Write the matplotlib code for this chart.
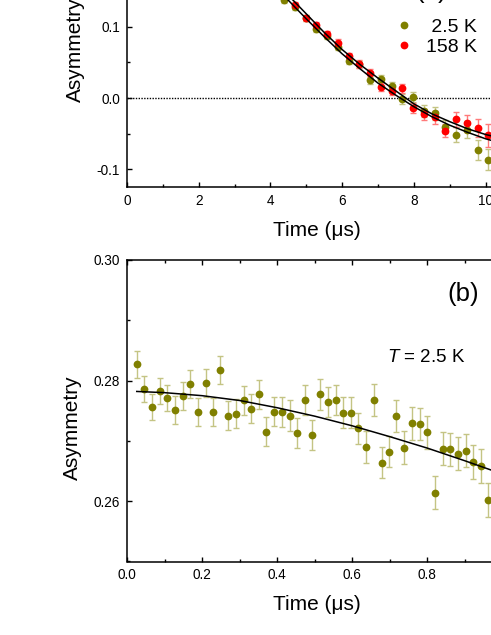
import matplotlib
matplotlib.use('Agg')
import matplotlib.pyplot as plt
from matplotlib.ticker import MultipleLocator, FormatStrFormatter

plt.rcParams['font.family'] = ['Liberation Sans', 'DejaVu Sans']
plt.rcParams['axes.unicode_minus'] = False
plt.rcParams['mathtext.fontset'] = 'custom'
plt.rcParams['mathtext.it'] = 'Liberation Sans:italic'
plt.rcParams['mathtext.rm'] = 'Liberation Sans'

# panel (a): asymmetry vs time, two temperatures
t_a = [4.38, 4.68, 4.98, 5.28, 5.58, 5.88, 6.18, 6.48, 6.78, 7.08,
       7.38, 7.68, 7.98, 8.28, 8.58, 8.88, 9.18, 9.48, 9.78, 10.08]
asym_25 = [0.1374, 0.1272, 0.1118, 0.0972, 0.087, 0.0718, 0.0519, 0.0471, 0.0251, 0.0271,
           0.0168, -0.0015, 0.0018, -0.018, -0.0216, -0.0404, -0.0511, -0.0442, -0.0731, -0.0861]
err_25 = [0.004, 0.004, 0.004, 0.004, 0.004, 0.0045, 0.0045, 0.005, 0.005, 0.0055,
          0.006, 0.0065, 0.007, 0.008, 0.009, 0.009, 0.011, 0.012, 0.014, 0.015]
asym_158 = [0.148, 0.130, 0.1126, 0.102, 0.0893, 0.0776, 0.0589, 0.0477, 0.0355, 0.0150,
            0.010, 0.0135, -0.0146, -0.0229, -0.0271, -0.0459, -0.0299, -0.0355, -0.0417, -0.0519]
err_158 = [0.004, 0.004, 0.004, 0.004, 0.004, 0.0045, 0.0045, 0.005, 0.005, 0.0055,
           0.006, 0.0065, 0.007, 0.008, 0.009, 0.009, 0.011, 0.012, 0.013, 0.016]

# fit curves
fit_t_a = [4.0, 4.5, 5.0, 5.5, 6.0, 6.5, 7.0, 7.5, 8.0, 8.5, 9.0, 9.5, 10.0, 10.5, 11.0]
fit_158 = [0.170, 0.144, 0.118, 0.092, 0.068, 0.047, 0.028, 0.010, -0.008, -0.022,
           -0.033, -0.043, -0.051, -0.057, -0.062]
fit_25 = [0.163, 0.137, 0.111, 0.086, 0.062, 0.041, 0.021, 0.004, -0.012, -0.026,
          -0.038, -0.048, -0.057, -0.064, -0.069]

# panel (b): early times at 2.5 K
t_b = [0.026, 0.046, 0.067, 0.088, 0.107, 0.128, 0.148, 0.169, 0.189, 0.210,
       0.230, 0.249, 0.270, 0.290, 0.311, 0.331, 0.352, 0.371, 0.391, 0.413,
       0.433, 0.454, 0.473, 0.494, 0.515, 0.535, 0.556, 0.576, 0.597, 0.616,
       0.637, 0.657, 0.678, 0.698, 0.717, 0.739, 0.759, 0.779, 0.799, 0.819,
       0.841, 0.861, 0.882, 0.902, 0.922, 0.942, 0.962]
asym_b = [0.2827, 0.2786, 0.2756, 0.2783, 0.2771, 0.2751, 0.2774, 0.2794, 0.2748, 0.2796,
          0.2748, 0.2817, 0.2742, 0.2745, 0.2767, 0.2753, 0.2777, 0.2715, 0.2748, 0.2748,
          0.2742, 0.2713, 0.2768, 0.2710, 0.2777, 0.2765, 0.2768, 0.2747, 0.2747, 0.2721,
          0.2690, 0.2768, 0.2664, 0.2682, 0.2741, 0.2689, 0.2729, 0.2728, 0.2714, 0.2614,
          0.2687, 0.2686, 0.2679, 0.2684, 0.2665, 0.2659, 0.2602]
err_b = [0.0022, 0.0022, 0.0022, 0.0022, 0.0022, 0.0023, 0.0023, 0.0023, 0.0023, 0.0023,
         0.0023, 0.0023, 0.0024, 0.0024, 0.0024, 0.0024, 0.0024, 0.0024, 0.0024, 0.0025,
         0.0025, 0.0025, 0.0025, 0.0025, 0.0025, 0.0025, 0.0025, 0.0026, 0.0026, 0.0026,
         0.0026, 0.0026, 0.0026, 0.0026, 0.0027, 0.0027, 0.0027, 0.0027, 0.0027, 0.0027,
         0.0027, 0.0027, 0.0028, 0.0028, 0.0028, 0.0028, 0.0028]
fit_t_b = [0.026, 0.1, 0.2, 0.3, 0.4, 0.5, 0.6, 0.7, 0.8, 0.9, 1.0, 1.1, 1.2]
fit_b = [0.2782, 0.2780, 0.2775, 0.2767, 0.2755, 0.2741, 0.2725, 0.2707, 0.2688, 0.2667,
         0.2645, 0.2622, 0.2598]

W, H = 491, 635
OLIVE = '#808000'
OLIVE_ERR = '#c4c484'
RED = '#ff0000'
RED_ERR = '#ff7a7a'


def box(left, top, right, bottom):
    return [left / W, 1 - bottom / H, (right - left) / W, (bottom - top) / H]


fig = plt.figure(figsize=(W / 100, H / 100), dpi=100)
ax1 = fig.add_axes(box(127, -80.4, 557.2, 187.3))
ax2 = fig.add_axes(box(127, 260, 577.6, 561.5))

for ax in (ax1, ax2):
    for s in ax.spines.values():
        s.set_linewidth(1.1)
    ax.tick_params(which='both', direction='in', top=True, right=True,
                   labelsize=9.8, width=1, pad=5)
    ax.tick_params(which='major', length=3.6)
    ax.tick_params(which='minor', length=2.2)

# (a)
ax1.axhline(0, color='k', lw=1, ls=(0, (1, 1)), zorder=1)
ax1.errorbar(t_a, asym_25, yerr=err_25, fmt='none', ecolor=OLIVE_ERR,
             elinewidth=1, capsize=2.3, capthick=1, zorder=2)
ax1.errorbar(t_a, asym_158, yerr=err_158, fmt='none', ecolor=RED_ERR,
             elinewidth=1, capsize=2.3, capthick=1, zorder=2)
h25, = ax1.plot(t_a, asym_25, 'o', color=OLIVE, ms=5.6, mec='none', zorder=3)
h158, = ax1.plot(t_a, asym_158, 'o', color=RED, ms=5.6, mec='none', zorder=4)
ax1.plot(fit_t_a, fit_158, color='k', lw=1.1, zorder=5)
ax1.plot(fit_t_a, fit_25, color='k', lw=1.1, zorder=5)

ax1.set_xlim(0, 12)
ax1.set_ylim(-0.125, 0.25)
ax1.xaxis.set_major_locator(MultipleLocator(2))
ax1.xaxis.set_minor_locator(MultipleLocator(1))
ax1.yaxis.set_major_locator(MultipleLocator(0.1))
ax1.yaxis.set_minor_locator(MultipleLocator(0.05))
ax1.yaxis.set_major_formatter(FormatStrFormatter('%.1f'))
ax1.set_xlabel('Time (μs)', fontsize=15)
ax1.set_ylabel('Asymmetry', fontsize=15)
ax1.xaxis.set_label_coords(0.4417, -0.126)
ax1.yaxis.set_label_coords(-0.0976, 0.514)

ax1.legend([h25, h158], [' 2.5 K', '158 K'], loc='center left',
           bbox_to_anchor=(394 / W, 1 - 37 / H), bbox_transform=fig.transFigure,
           frameon=False, fontsize=14, handlelength=1.0, handletextpad=0.65,
           borderpad=0, borderaxespad=0, labelspacing=0.13, numpoints=1)
fig.text(415 / W, 1 + 2 / H, '(a)', fontsize=18.5, va='baseline', ha='left')

# (b)
ax2.errorbar(t_b, asym_b, yerr=err_b, fmt='none', ecolor=OLIVE_ERR,
             elinewidth=1, capsize=2.3, capthick=1, zorder=2)
ax2.plot(t_b, asym_b, 'o', color=OLIVE, ms=5.6, mec='none', zorder=3)
ax2.plot(fit_t_b, fit_b, color='k', lw=1.1, zorder=5)

ax2.set_xlim(0, 1.2)
ax2.set_ylim(0.25, 0.30)
ax2.xaxis.set_major_locator(MultipleLocator(0.2))
ax2.xaxis.set_minor_locator(MultipleLocator(0.1))
ax2.yaxis.set_major_locator(MultipleLocator(0.02))
ax2.yaxis.set_minor_locator(MultipleLocator(0.01))
ax2.xaxis.set_major_formatter(FormatStrFormatter('%.1f'))
ax2.yaxis.set_major_formatter(FormatStrFormatter('%.2f'))
ax2.set_xlabel('Time (μs)', fontsize=15)
ax2.set_ylabel('Asymmetry', fontsize=15)
ax2.xaxis.set_label_coords(0.4217, -0.111)
ax2.yaxis.set_label_coords(-0.0999, 0.443)

fig.text(447 / W, 1 - 301 / H, '(b)', fontsize=18.5, va='baseline', ha='left')
fig.text(387 / W, 1 - 362 / H, '$T$ = 2.5 K', fontsize=13.5, va='baseline', ha='left')

fig.savefig('out.png', dpi=100)
